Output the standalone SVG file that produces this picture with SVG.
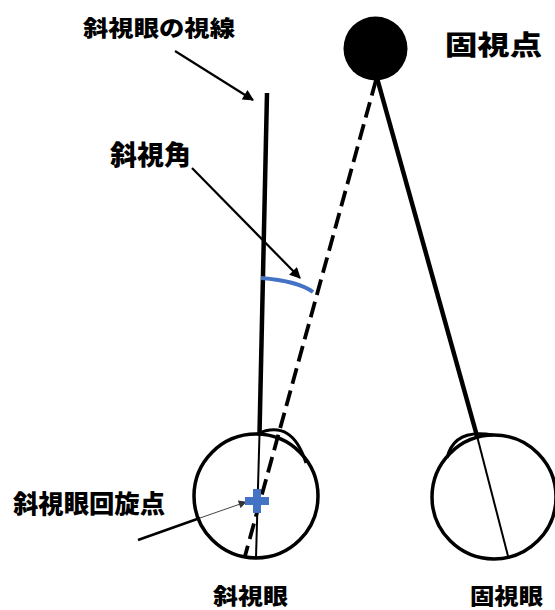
<svg xmlns="http://www.w3.org/2000/svg" width="555" height="610" viewBox="0 0 555 610">
  <defs>
    <marker id="head" viewBox="0 0 10 10" refX="9" refY="5" markerWidth="5.5" markerHeight="5" markerUnits="strokeWidth" orient="auto">
      <path d="M0,0 L10,5 L0,10 z" fill="#000"/>
    </marker>
    <marker id="headThin" viewBox="0 0 10 10" refX="9" refY="5" markerWidth="9" markerHeight="8" markerUnits="strokeWidth" orient="auto">
      <path d="M0,0 L10,5 L0,10 z" fill="#333"/>
    </marker>
    <style>
      .lbl { font-family: "Noto Sans CJK JP", "Noto Sans", sans-serif; font-weight: 900; fill: #000; }
      .eye { fill: #fff; stroke: #000; stroke-width: 3.5; }
      .cornea { fill: none; stroke: #000; stroke-width: 3; }
      .axis { stroke: #000; stroke-width: 2; fill: none; }
      .sight { stroke: #000; stroke-width: 4.5; fill: none; }
      .ptr { stroke: #000; stroke-width: 2.2; fill: none; }
      .blue { fill: #4472C4; }
    </style>
  </defs>

  <!-- eyes -->
  <g id="strabismic-eye">
    <circle class="eye" cx="256" cy="496" r="62"/>
    <path class="cornea" d="M257,434 Q292,418 306,463"/>
    <line class="axis" x1="259.5" y1="434" x2="256" y2="558"/>
  </g>
  <g id="fixing-eye">
    <circle class="eye" cx="494" cy="497" r="62"/>
    <path class="cornea" d="M447,458 Q454,428 493,435"/>
    <line class="axis" x1="477" y1="436" x2="508" y2="556"/>
  </g>

  <!-- fixation target -->
  <g id="fixation-point">
    <circle cx="375.5" cy="48.5" r="32" fill="#000"/>
  </g>

  <!-- lines of sight and pointers -->
  <g id="connectors">
    <line class="sight" x1="267" y1="93" x2="259.5" y2="434"/>
    <line x1="376" y1="80" x2="245" y2="556" stroke="#000" stroke-width="3.8" stroke-dasharray="16 7"/>
    <line class="sight" x1="377" y1="78" x2="477" y2="436"/>
    <path d="M261,278 Q298,281 313,292" fill="none" stroke="#4472C4" stroke-width="4"/>
    <line class="ptr" x1="175" y1="51" x2="253" y2="100" marker-end="url(#head)"/>
    <line class="ptr" x1="192" y1="168" x2="300" y2="278" marker-end="url(#head)"/>
    <line x1="138" y1="540" x2="200" y2="518" stroke="#000" stroke-width="2.5"/>
    <line x1="200" y1="518" x2="246" y2="502" stroke="#444" stroke-width="1" marker-end="url(#headThin)"/>
  </g>

  <!-- centre of rotation -->
  <g id="rotation-center">
    <rect class="blue" x="253" y="489" width="8" height="24"/>
    <rect class="blue" x="245" y="497" width="24" height="8"/>
  </g>

  <!-- labels -->
  <g id="labels">
    <text class="lbl" x="83" y="35.5" font-size="22" textLength="152" lengthAdjust="spacingAndGlyphs">斜視眼の視線</text>
    <text class="lbl" x="110" y="165" font-size="27" textLength="81" lengthAdjust="spacingAndGlyphs">斜視角</text>
    <text class="lbl" x="445" y="55" font-size="27" textLength="97" lengthAdjust="spacingAndGlyphs">固視点</text>
    <text class="lbl" x="13" y="513" font-size="25" textLength="152" lengthAdjust="spacingAndGlyphs">斜視眼回旋点</text>
    <text class="lbl" x="213" y="604" font-size="22" textLength="75" lengthAdjust="spacingAndGlyphs">斜視眼</text>
    <text class="lbl" x="470" y="604" font-size="22" textLength="73" lengthAdjust="spacingAndGlyphs">固視眼</text>
  </g>
</svg>
